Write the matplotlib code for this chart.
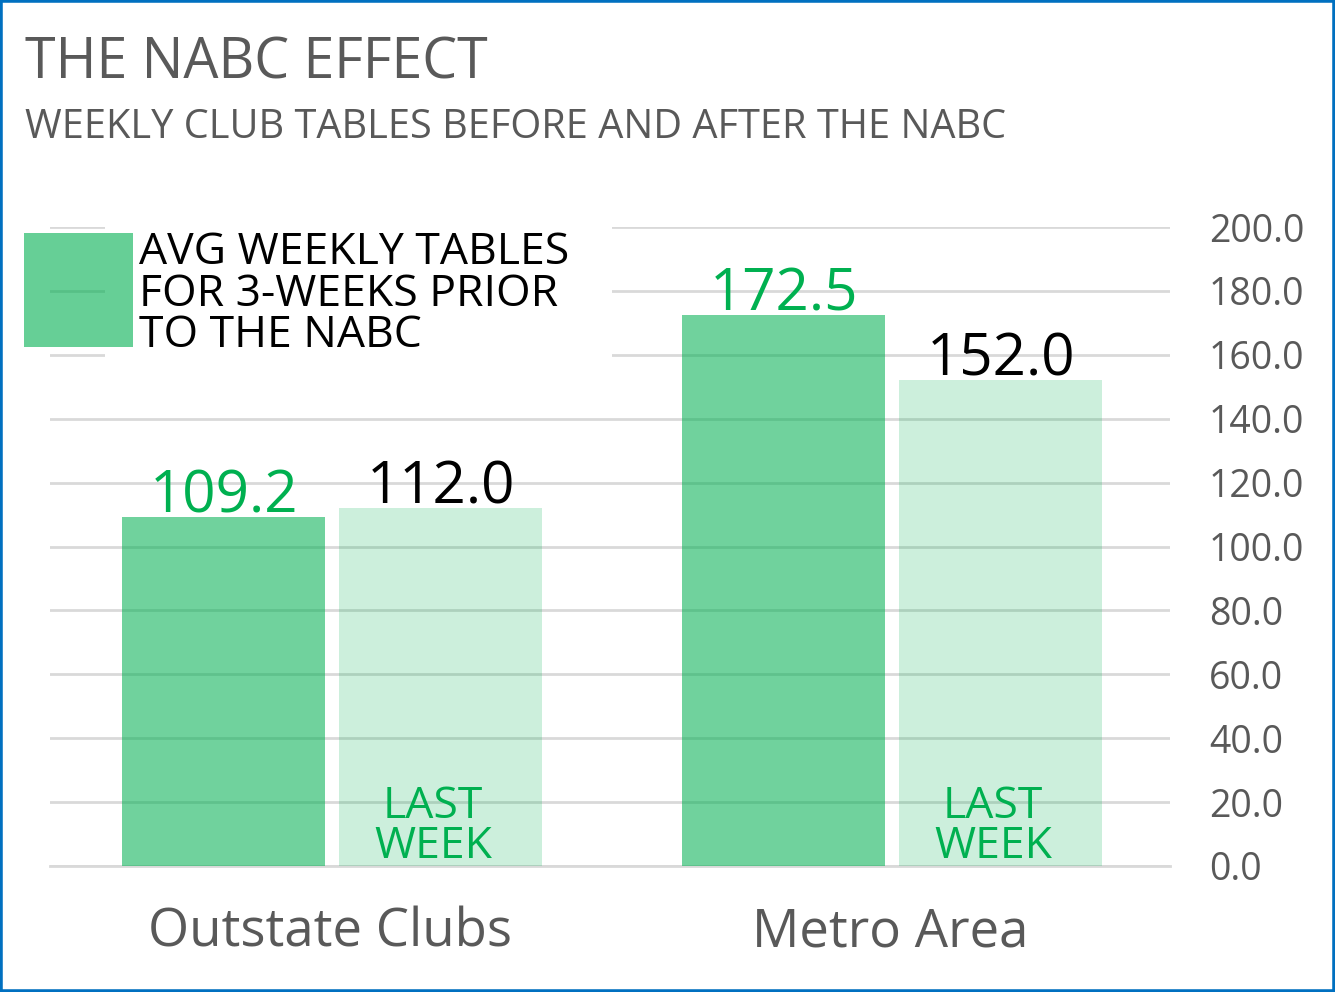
import matplotlib
matplotlib.use("Agg")
import matplotlib.pyplot as plt
from matplotlib.patches import Rectangle
import numpy as np

categories = ["Outstate Clubs", "Metro Area"]
prior_avg = [109.2, 172.5]
last_week = [112.0, 152.0]
y_ticks = [0, 20, 40, 60, 80, 100, 120, 140, 160, 180, 200]
title = "THE NABC EFFECT"
subtitle = "WEEKLY CLUB TABLES BEFORE AND AFTER THE NABC"
legend_label = "AVG WEEKLY TABLES\nFOR 3-WEEKS PRIOR\nTO THE NABC"
inner_label = "LAST\nWEEK"

W, H = 1335, 992
DPI = 100
GREEN = "#00B050"
GRAY = "#595959"
FONT = "Open Sans"
plt.rcParams["font.family"] = [FONT, "DejaVu Sans"]

fig = plt.figure(figsize=(W / DPI, H / DPI), dpi=DPI)
fig.patch.set_facecolor("white")

def fx(px):
    return px / W

def fy(py):
    return 1 - py / H

# plot area in pixels
L, R, T, B = 50, 1170, 227, 866
ax = fig.add_axes([fx(L), fy(B), fx(R) - fx(L), fy(T) - fy(B)])
ax.set_xlim(-0.5, 1.5)
ax.set_ylim(0, 200)

x = np.arange(len(categories))
bw = 0.3625
off1 = 0.190
off2 = 0.198
ax.bar(x - off1, prior_avg, bw, color=GREEN, alpha=0.56, zorder=3, linewidth=0)
ax.bar(x + off2, last_week, bw, color=GREEN, alpha=0.2, zorder=3, linewidth=0)

ax.set_yticks(y_ticks)
ax.set_yticklabels([f"{v:.1f}" for v in y_ticks])
ax.yaxis.tick_right()
ax.tick_params(axis="y", length=0, pad=28, labelsize=27, labelcolor=GRAY)
ax.set_xticks(x)
ax.set_xticklabels(categories)
ax.tick_params(axis="x", length=0, pad=29, labelsize=38, labelcolor=GRAY)
ax.grid(axis="y", color="#D9D9D9", linewidth=2, zorder=0)
ax.set_axisbelow(True)
for s in ["top", "left", "right"]:
    ax.spines[s].set_visible(False)
ax.spines["bottom"].set_color("#D9D9D9")
ax.spines["bottom"].set_linewidth(2)

for xi, v in zip(x - off1, prior_avg):
    ax.annotate(f"{v:.1f}", (xi, v), xytext=(0, -6.9), textcoords="offset points",
                ha="center", va="bottom", fontsize=42, color=GREEN, zorder=5)
for xi, v in zip(x + off2, last_week):
    ax.annotate(f"{v:.1f}", (xi, v), xytext=(0, -6.9), textcoords="offset points",
                ha="center", va="bottom", fontsize=42, color="black", zorder=5)
for xi in x + off2:
    ax.annotate(inner_label, (xi, 0), xytext=(-5.5, -2.2), textcoords="offset points",
                ha="center", va="bottom", fontsize=32, color=GREEN, linespacing=0.88, zorder=5)

# legend (manual, white background behind the text, translucent patch)
fig.patches.append(Rectangle((fx(105), fy(362)), fx(612) - fx(105), fy(218) - fy(362),
                             transform=fig.transFigure, facecolor="white", edgecolor="none", zorder=2))
fig.patches.append(Rectangle((fx(24), fy(347)), fx(133) - fx(24), fy(233) - fy(347),
                             transform=fig.transFigure, facecolor=GREEN, alpha=0.6,
                             edgecolor="none", zorder=3))
fig.text(fx(139), fy(231), legend_label, ha="left", va="top", fontsize=32,
         color="black", linespacing=0.905, zorder=4)

fig.text(fx(25), fy(35.5), title, ha="left", va="top", fontsize=40, color=GRAY)
fig.text(fx(25), fy(108), subtitle, ha="left", va="top", fontsize=28.6, color=GRAY)

fig.patches.append(Rectangle((0, 0), 1, 1, transform=fig.transFigure, facecolor="none",
                             edgecolor="#0070C0", linewidth=4, zorder=10))

fig.savefig("out.png", dpi=DPI)
